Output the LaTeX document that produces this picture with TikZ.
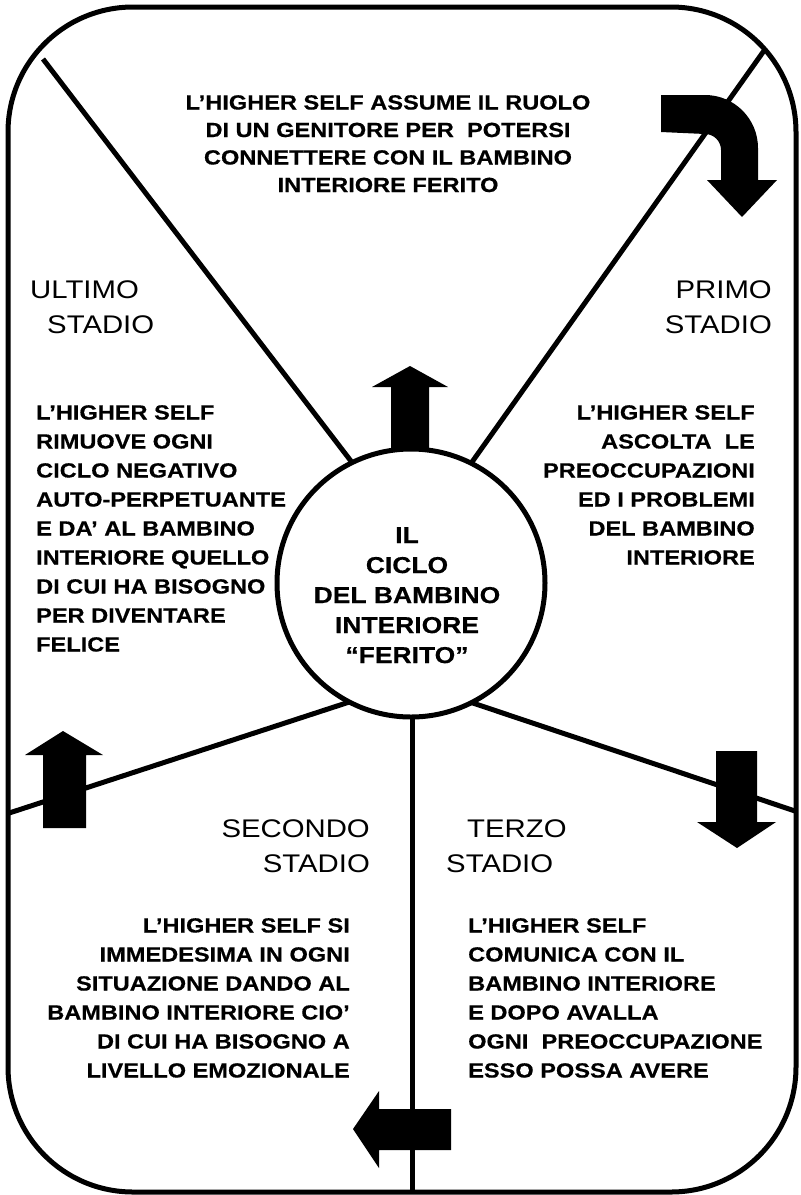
\documentclass[tikz,border=0pt]{standalone}
\usepackage{fontspec}
\setmainfont{Liberation Sans}[FakeStretch=1.15, BoldFeatures={FakeBold=0.5}]
\begin{document}
\begin{tikzpicture}[x=1pt,y=-1pt,
  boldtext/.style={font=\fontsize{20.5}{29}\selectfont\bfseries, inner sep=0pt},
  toptext/.style={font=\fontsize{20.5}{27.5}\selectfont\bfseries, inner sep=0pt},
  circtext/.style={font=\fontsize{23}{30}\selectfont\bfseries, inner sep=0pt},
  stage/.style={font=\fontsize{25.5}{35}\selectfont, inner sep=0pt},
  spoke/.style={line width=5pt},
  blk/.style={fill=black, draw=none}]
\useasboundingbox (0,0) rectangle (801,1195);
% spoke end points
\coordinate (ulA) at (43,59);   \coordinate (ulB) at (380,499);
\coordinate (urA) at (800,0);   \coordinate (urB) at (450,493);
\coordinate (llA) at (0,816);   \coordinate (llB) at (380,692);
\coordinate (lrA) at (801,813); \coordinate (lrB) at (440,692);
\coordinate (vA) at (412,700);  \coordinate (vB) at (412,1195);
\begin{scope}
  \clip[rounded corners=125pt] (8,7) rectangle (796,1192);
  \draw[spoke] (ulA) -- (ulB);
  \draw[spoke] (urA) -- (urB);
  \draw[spoke] (llA) -- (llB);
  \draw[spoke] (lrA) -- (lrB);
  \draw[spoke] (vA) -- (vB);
\end{scope}
\draw[line width=5pt, rounded corners=125pt] (8,7) rectangle (796,1192);
% central circle
\node[circle, draw, line width=5pt, fill=white, minimum size=268pt, inner sep=0pt] (c) at (411,583) {};
\node[circtext, align=center, anchor=north] (ct) at (407,527)
  {IL\\CICLO\\DEL BAMBINO\\INTERIORE\\“FERITO”};
% arrows
\fill[blk] (391,449) -- (391,387) -- (372,387) -- (410,366) -- (448,387) -- (429,387) -- (429,449) -- cycle;
\fill[blk] (661,95) -- (705,95) arc[start angle=-90, end angle=0, radius=53] -- (758,180) -- (777,180) -- (742,217) -- (707,180) -- (721,180) -- (721,150) arc[start angle=0, end angle=-90, radius=16] -- (661,132) -- cycle;
\fill[blk] (716,751) -- (757,751) -- (757,822) -- (776,822) -- (737,848) -- (697,822) -- (716,822) -- cycle;
\fill[blk] (43,828) -- (43,755) -- (25,755) -- (63,731) -- (103,755) -- (86,755) -- (86,828) -- cycle;
\fill[blk] (451,1109) -- (379,1109) -- (379,1091) -- (353,1129) -- (379,1168) -- (379,1150) -- (451,1150) -- cycle;
% stage labels
\node[stage, anchor=north west, align=left] (ultimo) at (30,280) {ULTIMO\\\hspace*{17pt}STADIO};
\node[stage, anchor=north east, align=right] (primo) at (772,280) {PRIMO\\STADIO};
\node[stage, anchor=north east, align=right] (secondo) at (370,819) {SECONDO\\STADIO};
\node[stage, anchor=north west, align=left] (terzo) at (446,819) {\hspace*{21pt}TERZO\\STADIO};
% text blocks
\node[toptext, anchor=north, align=center] (top) at (388,95)
  {L’HIGHER SELF ASSUME IL RUOLO\\DI UN GENITORE PER\ \ POTERSI\\CONNETTERE CON IL BAMBINO\\INTERIORE FERITO};
\node[boldtext, anchor=north west, align=left] (left) at (36,405)
  {L’HIGHER SELF\\RIMUOVE OGNI\\CICLO NEGATIVO\\AUTO-PERPETUANTE\\E DA’ AL BAMBINO\\INTERIORE QUELLO\\DI CUI HA BISOGNO\\PER DIVENTARE\\FELICE};
\node[boldtext, anchor=north east, align=right] (right) at (755,405)
  {L’HIGHER SELF\\ASCOLTA\ \ LE\\PREOCCUPAZIONI\\ED I PROBLEMI\\DEL BAMBINO\\INTERIORE};
\node[boldtext, anchor=north east, align=right] (botleft) at (350,918)
  {L’HIGHER SELF SI\\IMMEDESIMA IN OGNI\\SITUAZIONE DANDO AL\\BAMBINO INTERIORE CIO’\\DI CUI HA BISOGNO A\\LIVELLO EMOZIONALE};
\node[boldtext, anchor=north west, align=left] (botright) at (468,918)
  {L’HIGHER SELF\\COMUNICA CON IL\\BAMBINO INTERIORE\\E DOPO AVALLA\\OGNI\ \ PREOCCUPAZIONE\\ESSO POSSA AVERE};
\end{tikzpicture}
\end{document}
